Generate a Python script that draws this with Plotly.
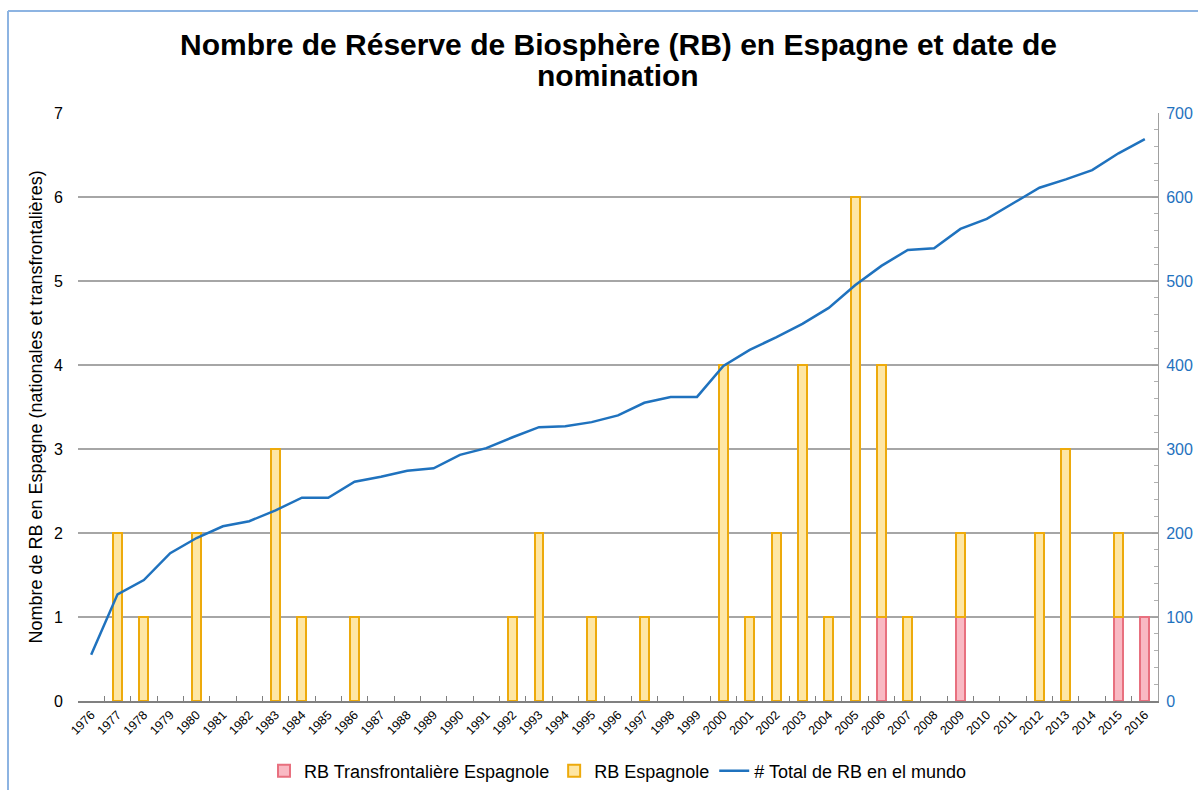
import plotly.graph_objects as go

# Years of nomination
years = [str(y) for y in range(1976, 2017)]

# Spanish biosphere reserves nominated per year (None = no nomination)
rb_transfrontaliere = [None, None, None, None, None, None, None, None, None, None,
                       None, None, None, None, None, None, None, None, None, None,
                       None, None, None, None, None, None, None, None, None, None,
                       1, None, None, 1, None, None, None, None, None, 1,
                       1]
rb_espagnole = [None, 2, 1, None, 2, None, None, 3, 1, None,
                1, None, None, None, None, None, 1, 2, None, 1,
                None, 1, None, None, 4, 1, 2, 4, 1, 6,
                3, 1, None, 1, None, None, 2, 3, None, 1,
                None]

# Cumulative number of biosphere reserves worldwide
total_monde = [55, 127, 144, 176, 194, 208, 214, 227, 242, 242,
               261, 267, 274, 277, 293, 301, 314, 326, 327, 332,
               340, 355, 362, 362, 399, 418, 433, 449, 468, 495,
               518, 537, 539, 562, 574, 593, 611, 621, 632, 652,
               669]

FONT = "Liberation Sans, Arial, sans-serif"
BLUE = "#1F72BE"
FRAME = "#8DB4E2"

# Plot area geometry (pixels) used to place the frame and title lines
L, R, T, B, W, H = 78, 41, 113, 89, 1199, 790
PW, PH = W - L - R, H - T - B


def px_x(px):
    return (px - L) / PW


def px_y(py):
    return (H - B - py) / PH


fig = go.Figure()

fig.add_trace(go.Bar(
    x=years, y=rb_transfrontaliere, name="RB Transfrontalière Espagnole",
    marker=dict(color="#F9B9C3", line=dict(color="#E8707F", width=2)),
    width=0.34,
))
fig.add_trace(go.Bar(
    x=years, y=rb_espagnole, name="RB Espagnole",
    marker=dict(color="#FEE6A4", line=dict(color="#EDAA0C", width=2)),
    width=0.34,
))
fig.add_trace(go.Scatter(
    x=years, y=total_monde, name="# Total de RB en el mundo",
    mode="lines", line=dict(color=BLUE, width=2.5), yaxis="y2",
))

title_lines = ["Nombre de Réserve de Biosphère (RB) en Espagne et date de", "nomination"]
title_centers = [44, 75]
annotations = [
    dict(text=f"<b>{t}</b>", x=0.5, xref="paper", xanchor="center",
         y=px_y(c), yref="paper", yanchor="middle", showarrow=False,
         font=dict(size=30, family=FONT, color="#000000"))
    for t, c in zip(title_lines, title_centers)
]

fig.update_layout(
    width=W, height=H,
    barmode="stack",
    plot_bgcolor="white", paper_bgcolor="white",
    font=dict(family=FONT, color="#000000"),
    margin=dict(l=L, r=R, t=T, b=B, autoexpand=False),
    annotations=annotations,
    shapes=[
        dict(type="line", xref="paper", yref="paper",
             x0=px_x(8), x1=px_x(8), y0=px_y(11), y1=px_y(790),
             line=dict(color=FRAME, width=2)),
        dict(type="line", xref="paper", yref="paper",
             x0=px_x(8), x1=px_x(1198), y0=px_y(11), y1=px_y(11),
             line=dict(color=FRAME, width=2)),
    ],
    xaxis=dict(
        type="category", tickangle=-45, tickfont=dict(size=12.5),
        showline=True, linecolor="#808080", linewidth=1.5,
        ticks="inside", ticklen=5, tickcolor="#808080", tickson="boundaries",
        showgrid=False, range=[-0.5, 40.5], automargin=False,
    ),
    yaxis=dict(
        range=[0, 7], dtick=1, tickfont=dict(size=16),
        showgrid=True, gridcolor="#A6A6A6", gridwidth=1.5,
        zeroline=False, showline=False, ticks="", ticklabelstandoff=14,
        automargin=False,
        title=dict(text="Nombre de RB en Espagne (nationales et transfrontalières)",
                   font=dict(size=18), standoff=6),
    ),
    yaxis2=dict(
        overlaying="y", side="right", range=[0, 700], dtick=100,
        tickfont=dict(size=16, color=BLUE), ticklabelstandoff=4,
        showgrid=False, zeroline=False, automargin=False,
        showline=True, linecolor="#A0A0A0", linewidth=1,
        ticks="inside", ticklen=6, tickcolor="#A0A0A0",
        minor=dict(dtick=20, ticks="inside", ticklen=4, tickcolor="#B0B0B0"),
    ),
    legend=dict(
        orientation="h", x=0.5, xanchor="center", y=px_y(771), yanchor="middle",
        font=dict(size=18), traceorder="normal",
    ),
    bargap=0.6,
)

fig.write_html("out.html")
